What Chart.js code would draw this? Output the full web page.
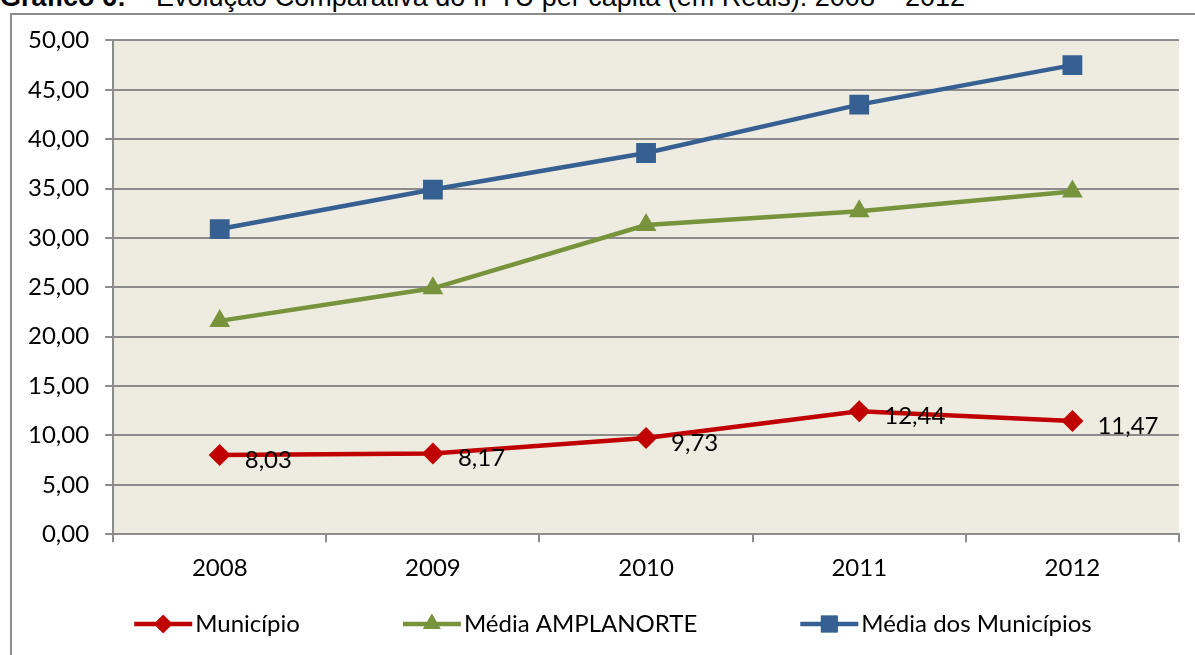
<!DOCTYPE html>
<html>
<head>
    <title>Evolução Comparativa do IPTU per capita</title>
    <script src="https://cdn.jsdelivr.net/npm/chart.js"></script>
    <style>
        body { margin: 0; background: white; overflow: hidden; }
        .titulo {
            position: absolute; left: 0; top: -18px; white-space: nowrap;
            font-family: "Liberation Sans", Arial, sans-serif; font-size: 27px; color: #000;
        }
        .moldura {
            position: absolute; left: 10px; top: 13px; width: 1200px; height: 660px;
            border-left: 2px solid #8c8c8c; border-top: 2px solid #8c8c8c;
        }
        #grafico { position: absolute; left: 0; top: -5px; }
    </style>
</head>
<body>
    <div class="titulo"><b>Gráfico 6:</b> – Evolução Comparativa do IPTU per capita (em Reais): 2008 – 2012</div>
    <div class="moldura">
        <canvas id="grafico" width="1183" height="646"></canvas>
    </div>

    <script>
        const anos = ['2008', '2009', '2010', '2011', '2012'];
        const municipio = [8.03, 8.17, 9.73, 12.44, 11.47];
        const mediaAmplanorte = [21.6, 24.9, 31.3, 32.7, 34.7];
        const mediaMunicipios = [30.9, 34.9, 38.6, 43.5, 47.5];

        const fonte = 'Lato, "Open Sans", sans-serif';
        const cinza = '#8c8c8c';

        function virgula(v) {
            return v.toFixed(2).replace('.', ',');
        }

        const fundo = {
            id: 'fundo',
            beforeDraw(chart) {
                const a = chart.chartArea;
                const ctx = chart.ctx;
                ctx.save();
                ctx.fillStyle = '#eeebe1';
                ctx.fillRect(a.left, a.top, a.right - a.left, a.bottom - a.top);
                ctx.restore();
            }
        };

        const rotulos = {
            id: 'rotulos',
            afterDatasetsDraw(chart) {
                const ctx = chart.ctx;
                const meta = chart.getDatasetMeta(0);
                ctx.save();
                ctx.font = '24px ' + fonte;
                ctx.fillStyle = '#000';
                ctx.textAlign = 'left';
                ctx.textBaseline = 'middle';
                meta.data.forEach((p, i) => {
                    ctx.fillText(virgula(municipio[i]), p.x + 25, p.y + 5);
                });
                ctx.restore();
            }
        };

        // legenda desenhada à mão: linha com marcador + texto
        const legenda = {
            id: 'legenda',
            afterDraw(chart) {
                const ctx = chart.ctx;
                const ds = chart.data.datasets;
                const linha = 58, gap = 3, entre = 103, centro = 601, y = 614;
                ctx.save();
                ctx.font = '24px ' + fonte;
                const larg = ds.map(d => linha + gap + ctx.measureText(d.label).width);
                let x = centro - (larg.reduce((a, b) => a + b, 0) + entre * (ds.length - 1)) / 2;
                ds.forEach((d, i) => {
                    ctx.strokeStyle = d.borderColor;
                    ctx.lineWidth = d.borderWidth;
                    ctx.beginPath();
                    ctx.moveTo(x, y); ctx.lineTo(x + linha, y);
                    ctx.stroke();
                    ctx.fillStyle = d.borderColor;
                    Chart.helpers.drawPoint(ctx, { pointStyle: d.pointStyle, radius: d.pointRadius * 0.85, borderWidth: 0 }, x + linha / 2, y);
                    ctx.fill();
                    ctx.fillStyle = '#000';
                    ctx.textBaseline = 'middle';
                    ctx.fillText(d.label, x + linha + gap, y);
                    x += larg[i] + entre;
                });
                ctx.restore();
            }
        };

        const series = [
            { label: 'Município', data: municipio, cor: '#c00000', estilo: 'rectRot', raio: 11 },
            { label: 'Média AMPLANORTE', data: mediaAmplanorte, cor: '#77933c', estilo: 'triangle', raio: 12 },
            { label: 'Média dos Municípios', data: mediaMunicipios, cor: '#376092', estilo: 'rect', raio: 14 }
        ];

        new Chart(document.getElementById('grafico'), {
            type: 'line',
            data: {
                labels: anos,
                datasets: series.map(s => ({
                    label: s.label,
                    data: s.data,
                    borderColor: s.cor,
                    backgroundColor: s.cor,
                    pointBackgroundColor: s.cor,
                    pointBorderColor: s.cor,
                    pointBorderWidth: 0,
                    pointStyle: s.estilo,
                    pointRadius: s.raio,
                    borderWidth: 4.5,
                    tension: 0
                }))
            },
            options: {
                responsive: false,
                animation: false,
                layout: { padding: { top: 28, right: 16, left: 0, bottom: 61 } },
                plugins: {
                    tooltip: { enabled: false },
                    legend: { display: false }
                },
                scales: {
                    x: {
                        offset: true,
                        grid: { drawOnChartArea: false, offset: true, color: cinza, lineWidth: 2, tickLength: 8 },
                        border: { color: cinza, width: 2 },
                        ticks: { font: { family: fonte, size: 24 }, color: '#000', padding: 12 }
                    },
                    y: {
                        min: 0, max: 50,
                        ticks: {
                            stepSize: 5,
                            font: { family: fonte, size: 24 },
                            color: '#000',
                            padding: 16,
                            callback: v => virgula(v)
                        },
                        grid: { color: cinza, lineWidth: 2, tickLength: 8 },
                        border: { color: cinza, width: 2 }
                    }
                }
            },
            plugins: [fundo, rotulos, legenda]
        });
    </script>
</body>
</html>
